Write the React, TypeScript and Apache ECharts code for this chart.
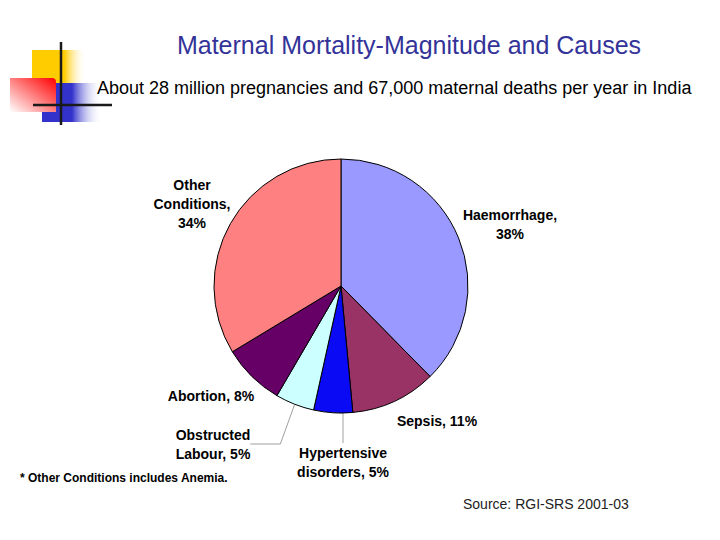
import React, { useEffect, useRef } from "react";
import * as echarts from "echarts";

const categories = [
  "Haemorrhage",
  "Sepsis",
  "Hypertensive disorders",
  "Obstructed Labour",
  "Abortion",
  "Other Conditions",
];
const shares = [38, 11, 5, 5, 8, 34];
const sliceColors = ["#9999FF", "#993366", "#0A0AF5", "#CCFFFF", "#660066", "#FF8080"];
const labelTexts = [
  "Haemorrhage,\n38%",
  "Sepsis, 11%",
  "Hypertensive\ndisorders, 5%",
  "Obstructed\nLabour, 5%",
  "Abortion, 8%",
  "Other\nConditions,\n34%",
];
const labelPositions = [
  [510, 224],
  [437, 421],
  [343, 462],
  [213, 444],
  [211, 396],
  [192, 204],
];
const showLine = [false, false, true, true, false, false];

export default function App() {
  const ref = useRef<HTMLDivElement>(null);
  useEffect(() => {
    if (!ref.current) return;
    const chart = echarts.init(ref.current, null, { renderer: "svg" });
    const lg = (x: number, y: number, x2: number, y2: number, stops: any[]) =>
      new echarts.graphic.LinearGradient(x, y, x2, y2, stops);
    chart.setOption({
      animation: false,
      backgroundColor: "#FFFFFF",
      graphic: [
        {
          type: "rect",
          shape: { x: 32, y: 50, width: 54, height: 33 },
          style: { fill: lg(0, 0, 1, 0, [
            { offset: 0, color: "#FFCC00" },
            { offset: 0.6, color: "#FFCC00" },
            { offset: 1, color: "rgba(255,255,255,0)" },
          ]) },
        },
        {
          type: "rect",
          shape: { x: 42, y: 83, width: 60, height: 39 },
          style: { fill: lg(0, 0, 1, 0, [
            { offset: 0, color: "#3333CC" },
            { offset: 0.5, color: "#3333CC" },
            { offset: 1, color: "rgba(255,255,255,0)" },
          ]) },
        },
        {
          type: "rect",
          shape: { x: 10, y: 78, width: 46, height: 34, r: [0, 4, 0, 0] },
          style: { fill: lg(1, 0, 0, 1, [
            { offset: 0, color: "#FF0000" },
            { offset: 1, color: "#FFFFFF" },
          ]) },
        },
        {
          type: "line",
          shape: { x1: 61, y1: 42, x2: 61, y2: 125 },
          style: { stroke: "#1A1A1A", lineWidth: 2.5 },
        },
        {
          type: "line",
          shape: { x1: 33, y1: 105, x2: 112, y2: 105 },
          style: { stroke: "#1A1A1A", lineWidth: 2.5 },
        },
        {
          type: "text",
          x: 409,
          y: 45,
          style: {
            text: "Maternal Mortality-Magnitude and Causes",
            fill: "#333399",
            font: "25px 'Liberation Sans', Arial, sans-serif",
            align: "center",
            verticalAlign: "middle",
          },
        },
        {
          type: "text",
          x: 97,
          y: 88,
          style: {
            text: "About 28 million pregnancies and 67,000 maternal deaths per year in India",
            fill: "#000000",
            font: "18px 'Liberation Sans', Arial, sans-serif",
            align: "left",
            verticalAlign: "middle",
          },
        },
        {
          type: "text",
          x: 20,
          y: 478,
          style: {
            text: "* Other Conditions includes Anemia.",
            fill: "#000000",
            font: "bold 12px 'Liberation Sans', Arial, sans-serif",
            align: "left",
            verticalAlign: "middle",
          },
        },
        {
          type: "text",
          x: 463,
          y: 504,
          style: {
            text: "Source: RGI-SRS 2001-03",
            fill: "#222222",
            font: "14px 'Liberation Sans', Arial, sans-serif",
            align: "left",
            verticalAlign: "middle",
          },
        },
      ],
      series: [
        {
          type: "pie",
          center: [341, 286],
          radius: 127,
          startAngle: 90,
          clockwise: true,
          silent: true,
          itemStyle: { borderColor: "#000000", borderWidth: 1 },
          label: {
            show: true,
            position: "outside",
            color: "#000000",
            fontFamily: "'Liberation Sans', Arial, sans-serif",
            fontWeight: "bold",
            fontSize: 14,
            lineHeight: 19,
            align: "center",
            formatter: (p: any) => labelTexts[p.dataIndex],
          },
          labelLine: {
            lineStyle: { color: "#A0A0A0", width: 1 },
          },
          labelLayout: (p: any) => {
            const pos = labelPositions[p.dataIndex];
            return {
              x: pos[0],
              y: pos[1],
              align: "center",
              verticalAlign: "middle",
            };
          },
          data: categories.map((c, i) => ({
            name: c,
            value: shares[i],
            itemStyle: { color: sliceColors[i] },
            labelLine: { show: showLine[i] },
          })),
        },
      ],
    });
    return () => chart.dispose();
  }, []);
  return (
    <div
      ref={ref}
      style={{ position: "absolute", left: 0, top: 0, width: 720, height: 540 }}
    />
  );
}
